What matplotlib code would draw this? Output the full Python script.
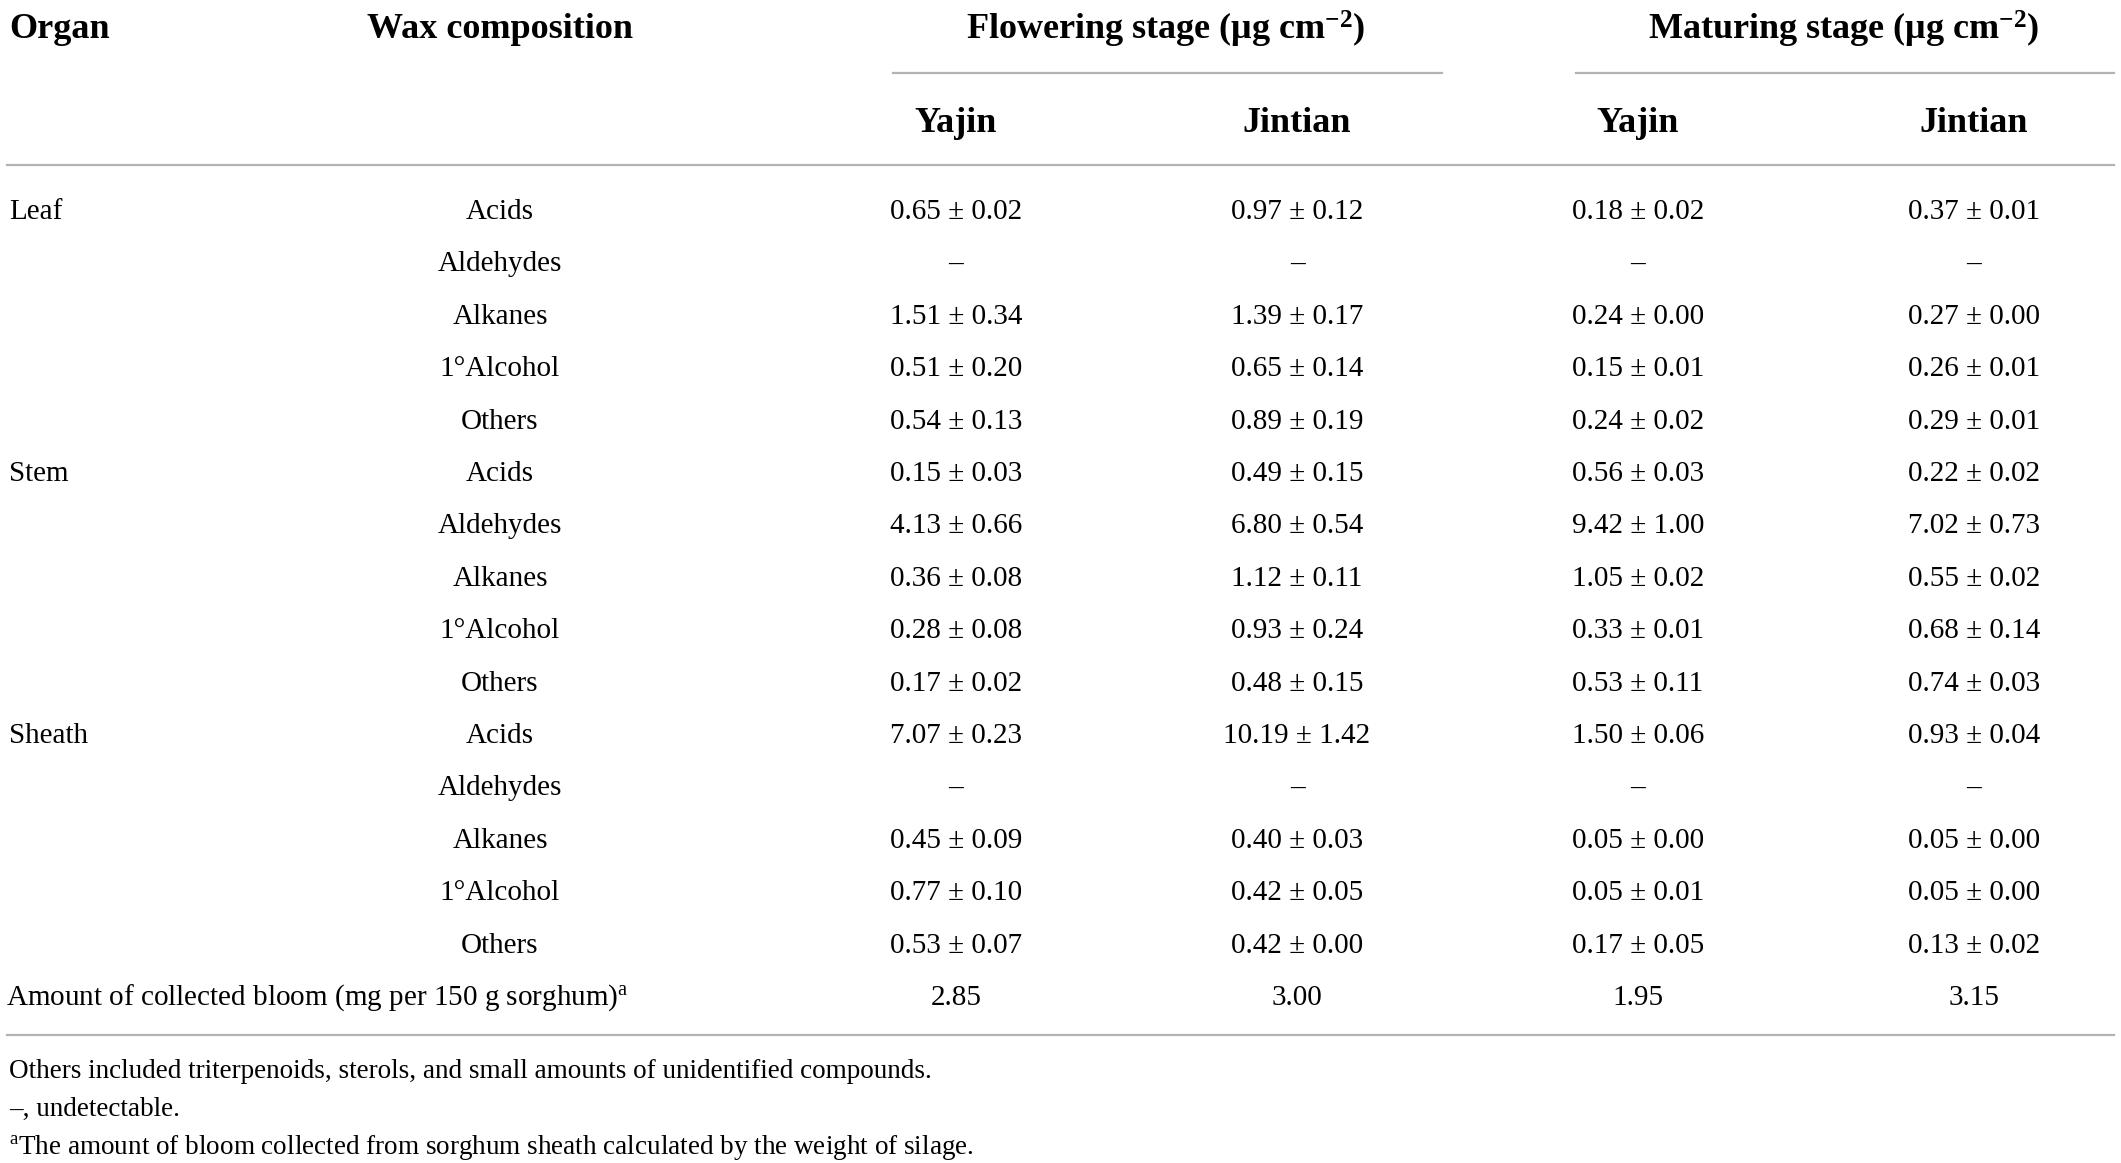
import matplotlib.pyplot as plt

plt.rcParams['font.family'] = ['Liberation Serif', 'DejaVu Serif']
plt.rcParams['mathtext.fontset'] = 'custom'
plt.rcParams['mathtext.rm'] = 'Liberation Serif'
plt.rcParams['mathtext.it'] = 'Liberation Serif:italic'
plt.rcParams['mathtext.bf'] = 'Liberation Serif:bold'

# Table content
organs = ["Leaf", "Stem", "Sheath"]
components = ["Acids", "Aldehydes", "Alkanes", "1°Alcohol", "Others"]
stages = [r"Flowering stage ($\mathbf{\mu}$g cm$^{\mathbf{-2}}$)",
          r"Maturing stage ($\mathbf{\mu}$g cm$^{\mathbf{-2}}$)"]
cultivars = ["Yajin", "Jintian", "Yajin", "Jintian"]

flower_yajin = ["0.65 ± 0.02", "–", "1.51 ± 0.34", "0.51 ± 0.20", "0.54 ± 0.13",
                "0.15 ± 0.03", "4.13 ± 0.66", "0.36 ± 0.08", "0.28 ± 0.08", "0.17 ± 0.02",
                "7.07 ± 0.23", "–", "0.45 ± 0.09", "0.77 ± 0.10", "0.53 ± 0.07"]
flower_jintian = ["0.97 ± 0.12", "–", "1.39 ± 0.17", "0.65 ± 0.14", "0.89 ± 0.19",
                  "0.49 ± 0.15", "6.80 ± 0.54", "1.12 ± 0.11", "0.93 ± 0.24", "0.48 ± 0.15",
                  "10.19 ± 1.42", "–", "0.40 ± 0.03", "0.42 ± 0.05", "0.42 ± 0.00"]
mature_yajin = ["0.18 ± 0.02", "–", "0.24 ± 0.00", "0.15 ± 0.01", "0.24 ± 0.02",
                "0.56 ± 0.03", "9.42 ± 1.00", "1.05 ± 0.02", "0.33 ± 0.01", "0.53 ± 0.11",
                "1.50 ± 0.06", "–", "0.05 ± 0.00", "0.05 ± 0.01", "0.17 ± 0.05"]
mature_jintian = ["0.37 ± 0.01", "–", "0.27 ± 0.00", "0.26 ± 0.01", "0.29 ± 0.01",
                  "0.22 ± 0.02", "7.02 ± 0.73", "0.55 ± 0.02", "0.68 ± 0.14", "0.74 ± 0.03",
                  "0.93 ± 0.04", "–", "0.05 ± 0.00", "0.05 ± 0.00", "0.13 ± 0.02"]
bloom_label = r"Amount of collected bloom (mg per 150 g sorghum)$^{\mathrm{a}}$"
bloom = ["2.85", "3.00", "1.95", "3.15"]

footnotes = ["Others included triterpenoids, sterols, and small amounts of unidentified compounds.",
             "–, undetectable.",
             r"$^{\mathrm{a}}$The amount of bloom collected from sorghum sheath calculated by the weight of silage."]

W, H = 2121, 1163
fig = plt.figure(figsize=(W / 100, H / 100), dpi=100)
ax = fig.add_axes([0, 0, 1, 1])
ax.set_xlim(0, W)
ax.set_ylim(H, 0)
ax.axis("off")

body = 21
head = 26
line_col = "#b3b3b3"

x_organ = 9
x_comp = 500
x_cols = [956, 1297, 1638, 1974]
x_stage = [1166, 1844]
row_y0 = 212
row_dy = 52.4

# header
ax.text(x_organ, 29, "Organ", fontsize=head, fontweight="bold", ha="left", va="center")
ax.text(x_comp, 29, "Wax composition", fontsize=head, fontweight="bold", ha="center", va="center")
for xs, s in zip(x_stage, stages):
    ax.text(xs, 29, s, fontsize=head, fontweight="bold", ha="center", va="center")
ax.plot([893, 1442], [73, 73], color=line_col, lw=1.6)
ax.plot([1576, 2114], [73, 73], color=line_col, lw=1.6)
for xc, c in zip(x_cols, cultivars):
    ax.text(xc, 124, c, fontsize=head, fontweight="bold", ha="center", va="center")
ax.plot([7, 2114], [165, 165], color=line_col, lw=1.6)

# body rows
columns = [flower_yajin, flower_jintian, mature_yajin, mature_jintian]
for i in range(len(organs) * len(components)):
    y = row_y0 + i * row_dy
    if i % len(components) == 0:
        ax.text(x_organ, y, organs[i // len(components)], fontsize=body, ha="left", va="center")
    ax.text(x_comp, y, components[i % len(components)], fontsize=body, ha="center", va="center")
    for xc, col in zip(x_cols, columns):
        ax.text(xc, y, col[i], fontsize=body, ha="center", va="center")

y = row_y0 + 15 * row_dy
ax.text(6, y, bloom_label, fontsize=body, ha="left", va="center")
for xc, v in zip(x_cols, bloom):
    ax.text(xc, y, v, fontsize=body, ha="center", va="center")

ax.plot([7, 2114], [1035, 1035], color=line_col, lw=1.6)

for k, note in enumerate(footnotes):
    ax.text(9, 1071 + k * 38, note, fontsize=19.5, ha="left", va="center")

fig.savefig("out.png", dpi=100, facecolor="white")
